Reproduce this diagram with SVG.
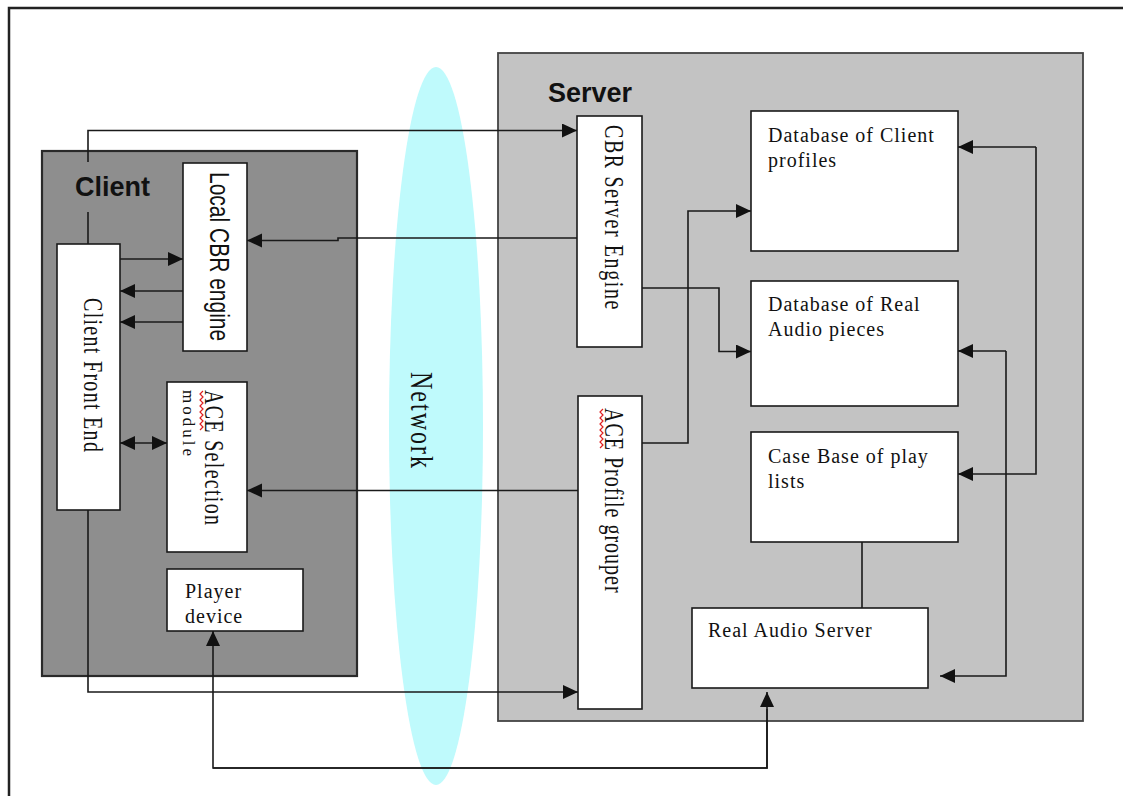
<svg xmlns="http://www.w3.org/2000/svg" width="1123" height="796" viewBox="0 0 1123 796">
  <style>
    .frame { fill: #ffffff; stroke: #222222; stroke-width: 2.5; }
    .client-bg { fill: #8e8e8e; stroke: #2a2a2a; stroke-width: 2.2; }
    .server-bg { fill: #c3c3c3; stroke: #444444; stroke-width: 1.8; }
    .box { fill: #ffffff; stroke: #1a1a1a; stroke-width: 1.6; }
    .title { font-family: "Liberation Sans", Arial, sans-serif; font-weight: bold; font-size: 27px; fill: #111111; }
    .lbl { font-family: "Liberation Serif", "Times New Roman", serif; font-size: 20px; fill: #111111; letter-spacing: 1px; }
    .lbl-sans { font-family: "Liberation Sans", Arial, sans-serif; font-size: 21px; fill: #111111; }
    .wire { fill: none; stroke: #1a1a1a; stroke-width: 1.6; }
    .arrow { fill: none; stroke: #1a1a1a; stroke-width: 1.6; marker-end: url(#head); }
    .squiggle { fill: none; stroke: #e02020; stroke-width: 1.2; }
  </style>
  <defs>
    <marker id="head" markerUnits="userSpaceOnUse" markerWidth="16" markerHeight="16" refX="15" refY="7" orient="auto">
      <path d="M0,0 L15,7 L0,14 Z" fill="#111111"/>
    </marker>
    <marker id="head2" markerUnits="userSpaceOnUse" markerWidth="16" markerHeight="16" refX="15" refY="7" orient="auto-start-reverse">
      <path d="M0,0 L15,7 L0,14 Z" fill="#111111"/>
    </marker>
  </defs>

  <!-- page frame -->
  <rect class="frame" x="9" y="8" width="1200" height="900"/>

  <!-- network cloud -->
  <g id="network">
    <ellipse cx="436" cy="426" rx="47" ry="359" fill="#bffafc"/>
    <text class="lbl" style="font-size:24px;letter-spacing:2px" transform="translate(410.5,372) rotate(90) scale(1,1.35)">Network</text>
  </g>

  <!-- client side -->
  <g id="client">
    <rect class="client-bg" x="42" y="151" width="315" height="525"/>
    <text class="title" x="75" y="196">Client</text>
  </g>

  <!-- server side -->
  <g id="server">
    <rect class="server-bg" x="498" y="53" width="585" height="668"/>
    <text class="title" x="548" y="102">Server</text>
  </g>

  <g id="local-cbr-engine">
    <rect class="box" x="183" y="163" width="64" height="188"/>
    <text class="lbl-sans" transform="translate(209.7,172) rotate(90) scale(1,1.35)">Local CBR engine</text>
  </g>

  <g id="client-front-end">
    <rect class="box" x="57" y="244" width="63" height="266"/>
    <text class="lbl" style="letter-spacing:1.3px" transform="translate(84,298) rotate(90) scale(1,1.35)">Client Front End</text>
  </g>

  <g id="ace-selection-module">
    <rect class="box" x="167" y="382" width="80" height="170"/>
    <text class="lbl" style="letter-spacing:1.3px" transform="translate(205,390) rotate(90) scale(1,1.35)">ACE Selection</text>
    <text class="lbl" style="font-size:17px;letter-spacing:3px" transform="translate(183,390) rotate(90)">module</text>
    <path class="squiggle" d="M203,391 l-3,3 l3,3 l-3,3 l3,3 l-3,3 l3,3 l-3,3 l3,3 l-3,3 l3,3 l-3,3 l3,3 l-3,3"/>
  </g>

  <g id="player-device">
    <rect class="box" x="167" y="569" width="136" height="62"/>
    <text class="lbl" x="185" y="598">Player</text>
    <text class="lbl" x="185" y="623">device</text>
  </g>

  <g id="cbr-server-engine">
    <rect class="box" x="577" y="116" width="65" height="231"/>
    <text class="lbl" style="letter-spacing:1.6px" transform="translate(605,125) rotate(90) scale(1,1.35)">CBR Server Engine</text>
  </g>

  <g id="ace-profile-grouper">
    <rect class="box" x="578" y="396" width="64" height="313"/>
    <text class="lbl" transform="translate(605,408) rotate(90) scale(1,1.35)">ACE Profile grouper</text>
    <path class="squiggle" d="M603,409 l-3,3 l3,3 l-3,3 l3,3 l-3,3 l3,3 l-3,3 l3,3 l-3,3 l3,3 l-3,3 l3,3 l-3,3"/>
  </g>

  <g id="db-client-profiles">
    <rect class="box" x="751" y="111" width="207" height="140"/>
    <text class="lbl" x="768" y="142">Database of Client</text>
    <text class="lbl" x="768" y="167">profiles</text>
  </g>

  <g id="db-real-audio">
    <rect class="box" x="751" y="281" width="207" height="125"/>
    <text class="lbl" x="768" y="311">Database of Real</text>
    <text class="lbl" x="768" y="336">Audio pieces</text>
  </g>

  <g id="case-base">
    <rect class="box" x="751" y="432" width="207" height="110"/>
    <text class="lbl" x="768" y="463">Case Base of play</text>
    <text class="lbl" x="768" y="488">lists</text>
  </g>

  <g id="real-audio-server">
    <rect class="box" x="692" y="608" width="236" height="80"/>
    <text class="lbl" x="708" y="637">Real Audio Server</text>
  </g>

  <!-- connectors -->
  <g id="connectors">
    <!-- front end up to CBR server engine (line passes under the Client label) -->
    <path class="wire" d="M88,244 V212"/>
    <path class="arrow" d="M88,162 V130.5 H577"/>
    <!-- CBR server engine back to local CBR engine -->
    <path class="arrow" d="M577,238 H338 V240.5 H247"/>
    <!-- front end and local CBR engine -->
    <path class="arrow" d="M120,259 H183"/>
    <path class="arrow" d="M183,291 H120"/>
    <path class="arrow" d="M183,322 H120"/>
    <!-- front end and ACE selection module -->
    <path class="wire" d="M120,443 H167" marker-start="url(#head2)" marker-end="url(#head2)"/>
    <!-- ACE profile grouper to ACE selection module -->
    <path class="arrow" d="M578,490.5 H247"/>
    <!-- front end down to ACE profile grouper -->
    <path class="arrow" d="M88,510 V692 H578"/>
    <!-- real audio server to player device -->
    <path class="arrow" d="M767,709 V768 H213 V631"/>
    <path class="arrow" d="M213,768 H767 V692"/>
    <!-- server internals -->
    <path class="arrow" d="M642,288 H719 V351.5 H751"/>
    <path class="arrow" d="M642,443 H688 V211 H751"/>
    <path class="arrow" d="M1036,147 H958"/>
    <path class="arrow" d="M1036,147 V474 H958"/>
    <path class="arrow" d="M1006,351 H958"/>
    <path class="arrow" d="M1006,351 V676 H940"/>
    <path class="wire" d="M862,542 V608"/>
  </g>
</svg>
